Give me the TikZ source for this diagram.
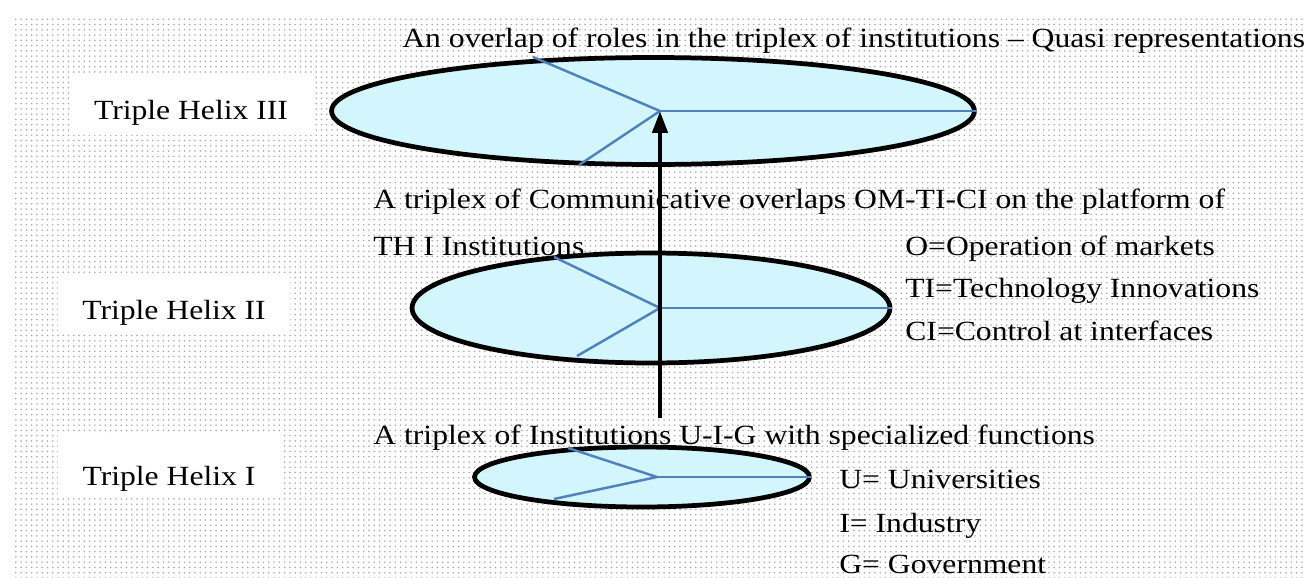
\documentclass[tikz,border=0pt]{standalone}
\usepackage{fontspec}
\setmainfont{Liberation Serif}[FakeStretch=1.14]
\usepackage{tikz}
\usetikzlibrary{arrows.meta,shapes.geometric,patterns}
\definecolor{discCyan}{HTML}{D2F6FC}
\definecolor{spokeBlue}{HTML}{4F81BD}
\definecolor{dotGrey}{HTML}{A8A8A8}
\tikzset{
  helixdisc/.style={ellipse, draw=black, fill=discCyan, line width=2.7pt, inner sep=0pt},
  helixlabel/.style={rectangle, fill=white, inner sep=0pt, font=\fontsize{15.8}{19}\selectfont},
  notetext/.style={anchor=base west, inner sep=0pt, font=\fontsize{15.8}{19}\selectfont},
  spoke/.style={draw=spokeBlue, line width=1.4pt},
  risearrow/.style={-{Triangle[length=4.4mm,width=3mm]}, line width=2.5pt, draw=black},
}

\begin{document}
\begin{tikzpicture}[x=0.02cm,y=-0.02cm]
  \useasboundingbox (0,0) rectangle (1305,578);
  \fill[white] (0,0) rectangle (1305,578);
  \fill[pattern=dots, pattern color=dotGrey] (14,15) rectangle (1305,578);

  % --- level labels ---
  \node[helixlabel, minimum width=4.84cm, text height=0.9cm, text depth=0.3cm] (lab3) at (191,105) {Triple Helix III};
  \node[helixlabel, minimum width=4.64cm, text height=0.92cm, text depth=0.26cm] (lab2) at (174,302.5) {Triple Helix II};
  \node[helixlabel, minimum width=4.44cm, text height=1.0cm, text depth=0.2cm] (lab1) at (169,465) {Triple Helix I};

  % --- descriptions ---
  \node[notetext] (top3) at (402,47) {An overlap of roles in the triplex of institutions -- Quasi representations};
  \node[notetext] (top2a) at (373,208) {A triplex of Communicative overlaps OM-TI-CI on the platform of};
  \node[notetext] (top2b) at (373,255) {TH I Institutions};
  \node[notetext] (om) at (905,255) {O=Operation of markets};
  \node[notetext] (ti) at (905,297) {TI=Technology Innovations};
  \node[notetext] (ci) at (905,340) {CI=Control at interfaces};
  \node[notetext] (top1) at (373,444) {A triplex of Institutions U-I-G with specialized functions};
  \node[notetext] (uni) at (839,488) {U= Universities};
  \node[notetext] (ind) at (839,532) {I= Industry};
  \node[notetext] (gov) at (839,573) {G= Government};

  % --- discs ---
  \node[helixdisc, minimum width=12.86cm, minimum height=2.14cm] (e3) at (653,111) {};
  \node[helixdisc, minimum width=9.56cm, minimum height=2.2cm] (e2) at (651,308) {};
  \node[helixdisc, minimum width=6.7cm, minimum height=1.2cm] (e1) at (642,477) {};

  \coordinate (h3) at (660,111);
  \coordinate (h2) at (660,308);
  \coordinate (h1) at (657,477);
  \coordinate (u3) at (533,57);  \coordinate (d3) at (579,165);
  \coordinate (u2) at (554,257); \coordinate (d2) at (577,356);
  \coordinate (u1) at (568,448); \coordinate (d1) at (554,499);

  \foreach \n in {1,2,3} {
    \draw[spoke] (u\n) -- (h\n) -- (d\n);
    \draw[spoke] (h\n) -- (e\n.east);
  }

  \coordinate (base) at (660,418);
  \draw[risearrow] (base) -- (h3);
\end{tikzpicture}
\end{document}
